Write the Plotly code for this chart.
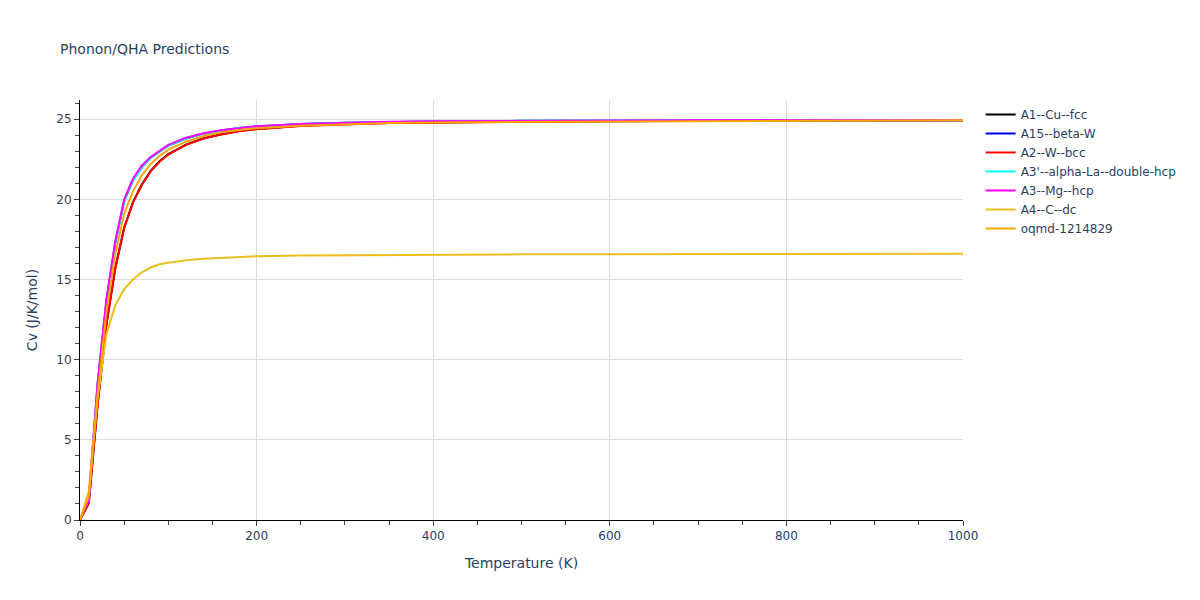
import plotly.graph_objects as go

T = [0, 10, 20, 30, 40, 50, 60, 70, 80, 90, 100, 120, 140, 160, 180, 200,
     250, 300, 350, 400, 500, 600, 700, 800, 900, 1000]

cu_fcc = [0, 1.06, 7.23, 12.23, 15.73, 18.23, 19.83, 20.93, 21.78, 22.38, 22.82, 23.42, 23.81,
          24.06, 24.26, 24.39, 24.59, 24.7, 24.76, 24.8, 24.85, 24.88, 24.9, 24.91, 24.92, 24.93]
beta_w = [0, 1.28, 8.5, 13.7, 17.3, 19.9, 21.2, 22.0, 22.6, 23.0, 23.35, 23.8, 24.1,
          24.3, 24.45, 24.55, 24.7, 24.78, 24.83, 24.86, 24.9, 24.92, 24.93, 24.93, 24.94, 24.94]
w_bcc = [0, 1.05, 7.2, 12.2, 15.7, 18.2, 19.8, 20.9, 21.75, 22.35, 22.8, 23.4, 23.8,
         24.05, 24.25, 24.38, 24.58, 24.69, 24.76, 24.8, 24.85, 24.88, 24.9, 24.91, 24.92, 24.93]
la_dhcp = [0, 1.3, 8.5, 13.7, 17.3, 19.9, 21.2, 22.0, 22.6, 23.0, 23.35, 23.8, 24.1,
           24.3, 24.45, 24.55, 24.7, 24.78, 24.83, 24.86, 24.9, 24.92, 24.93, 24.93, 24.94, 24.94]
mg_hcp = [0, 1.3, 8.6, 13.8, 17.4, 20.0, 21.3, 22.1, 22.65, 23.05, 23.4, 23.85, 24.12,
          24.32, 24.46, 24.56, 24.71, 24.79, 24.84, 24.87, 24.9, 24.92, 24.93, 24.93, 24.94, 24.94]
c_dc = [0, 1.8, 7.6, 11.6, 13.4, 14.4, 15.0, 15.45, 15.75, 15.95, 16.05, 16.2, 16.3,
        16.36, 16.41, 16.45, 16.5, 16.52, 16.54, 16.56, 16.57, 16.58, 16.59, 16.6, 16.6, 16.61]
oqmd = [0, 1.5, 7.9, 13.0, 16.6, 19.1, 20.5, 21.5, 22.2, 22.7, 23.1, 23.6, 23.95,
        24.18, 24.33, 24.44, 24.6, 24.7, 24.76, 24.8, 24.82, 24.86, 24.89, 24.91, 24.93, 24.94]

names = ["A1--Cu--fcc", "A15--beta-W", "A2--W--bcc", "A3'--alpha-La--double-hcp",
         "A3--Mg--hcp", "A4--C--dc", "oqmd-1214829"]
series = [cu_fcc, beta_w, w_bcc, la_dhcp, mg_hcp, c_dc, oqmd]
colors = ["black", "blue", "red", "cyan", "magenta", "rgb(235,190,30)", "orange"]

fig = go.Figure()
for n, s, c in zip(names, series, colors):
    fig.add_trace(go.Scatter(x=T, y=s, mode="lines", name=n,
                             line=dict(color=c, width=2)))

axis_common = dict(showline=True, linecolor="black", linewidth=1,
                   ticks="outside", ticklen=5, tickcolor="#444",
                   gridcolor="#dcdcdc", zeroline=False,
                   tickfont=dict(size=12, color="#2a3f5f"),
                   title_font=dict(size=14, color="#2a3f5f"))

fig.update_layout(
    template="plotly_white",
    width=1200, height=600,
    title=dict(text="Phonon/QHA Predictions", x=52 / 1200,
               font=dict(size=14, color="#2a3f5f")),
    margin=dict(l=72, r=245, t=92, b=88),
    font=dict(family="DejaVu Sans, Verdana, sans-serif"),
    legend=dict(font=dict(size=12, color="#2a3f5f")),
    xaxis=dict(title="Temperature (K)", range=[0, 1000], dtick=200,
               minor=dict(dtick=50, ticks="outside", ticklen=4, tickcolor="#444", showgrid=False),
               **axis_common),
    yaxis=dict(title="Cv (J/K/mol)", range=[0, 26.2], dtick=5,
               minor=dict(dtick=1, ticks="outside", ticklen=4, tickcolor="#444", showgrid=False),
               **axis_common),
)

fig.write_html("out.html")
